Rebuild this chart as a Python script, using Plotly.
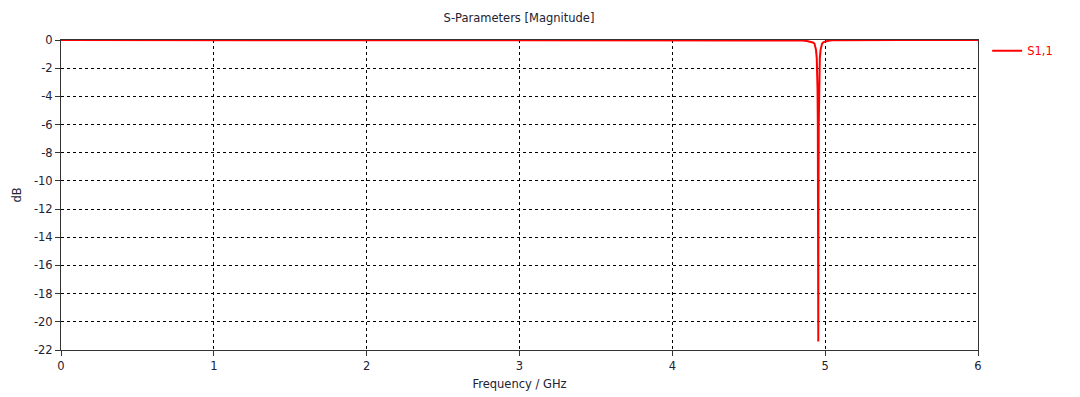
import plotly.graph_objects as go

freq_ghz = [0.0, 1.0, 2.0, 3.0, 4.0, 4.6, 4.8, 4.85, 4.88, 4.9, 4.91, 4.92, 4.93, 4.935, 4.94,
            4.945, 4.948, 4.95, 4.952, 4.954, 4.955, 4.956, 4.958, 4.96, 4.962, 4.965, 4.97,
            4.975, 4.98, 4.99, 5.0, 5.02, 5.05, 5.1, 5.5, 6.0]
s11_db = [0.0, 0.0, 0.0, 0.0, -0.005, -0.01, -0.02, -0.04, -0.07, -0.1, -0.14, -0.18, -0.25, -0.4, -0.7,
          -1.3, -2.2, -3.5, -6.0, -11.0, -21.4, -12.0, -6.0, -3.5, -2.2, -1.3, -0.7,
          -0.4, -0.25, -0.15, -0.1, -0.05, -0.02, -0.01, 0.0, 0.0]

x_ticks = [0, 1, 2, 3, 4, 5, 6]
y_ticks = [0, -2, -4, -6, -8, -10, -12, -14, -16, -18, -20, -22]

FONT = "DejaVu Sans"
FS = 11.5
TXT = "#222233"

# page body has an 8px margin; figure is sized/offset to compensate
W, H = 1072, 389

fig = go.Figure()
fig.add_trace(go.Scatter(
    x=freq_ghz, y=s11_db, mode="lines", name="S1,1",
    line=dict(color="#ff0000", width=2),
))

fig.update_layout(
    width=W, height=H,
    margin=dict(l=53, r=102, t=32, b=47),
    paper_bgcolor="white", plot_bgcolor="white",
    font=dict(family=FONT, size=FS, color=TXT),
    title=dict(text="S-Parameters [Magnitude]", x=511 / W, xanchor="center",
               y=1 - 10 / H, yanchor="middle",
               font=dict(family=FONT, size=FS, color=TXT)),
    showlegend=True,
    legend=dict(x=1.01, y=1.012, xanchor="left", yanchor="top",
                font=dict(family=FONT, size=FS, color="#ff0000"),
                bgcolor="rgba(0,0,0,0)", itemwidth=30),
)

fig.update_xaxes(
    range=[0, 6], tickvals=x_ticks, ticktext=[str(v) for v in x_ticks],
    showgrid=True, gridcolor="#000000", griddash="3px,3px", gridwidth=1,
    showline=True, linecolor="#333333", linewidth=1, mirror=True,
    ticks="outside", ticklen=5, tickcolor="#333333",
    zeroline=False, automargin=False,
    title=dict(text="Frequency / GHz", standoff=8, font=dict(family=FONT, size=FS, color=TXT)),
)
fig.update_yaxes(
    range=[-22, 0], tickvals=y_ticks, ticktext=[str(v) for v in y_ticks],
    showgrid=True, gridcolor="#000000", griddash="3px,3px", gridwidth=1,
    showline=True, linecolor="#333333", linewidth=1, mirror=True,
    ticks="outside", ticklen=5, tickcolor="#333333",
    zeroline=False, automargin=False,
    title=dict(text="dB", standoff=9, font=dict(family=FONT, size=FS, color=TXT)),
)

fig.write_html("out.html")
